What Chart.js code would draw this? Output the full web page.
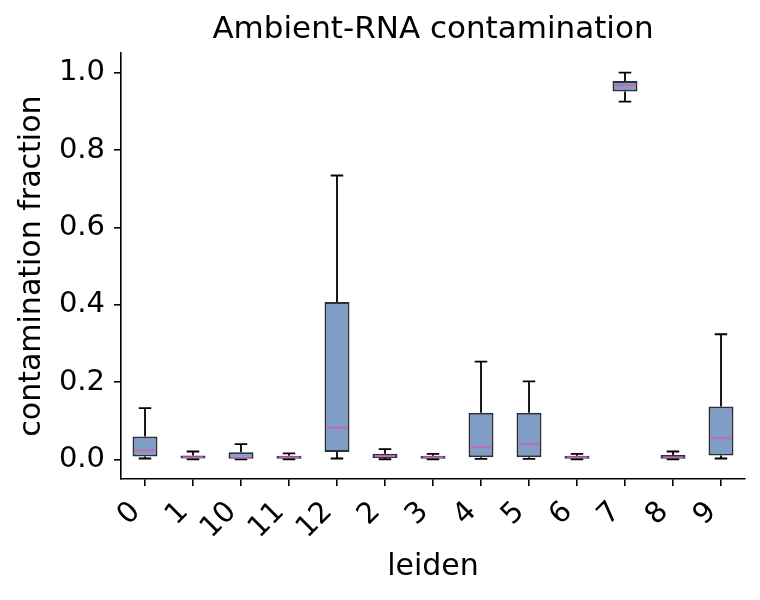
<!DOCTYPE html>
<html>
<head>
<meta charset="utf-8">
<script src="https://cdn.jsdelivr.net/npm/chart.js@4.4.1/dist/chart.umd.min.js"></script>
<style>
  html, body { margin: 0; padding: 0; background: #fff; }
  #chart { display: block; }
</style>
</head>
<body>
<canvas id="chart" width="760" height="600"></canvas>
<script>
// leiden clusters, in the order matplotlib sorted them (as strings)
const categories = ["0", "1", "10", "11", "12", "2", "3", "4", "5", "6", "7", "8", "9"];

// box plot stats
const whiskerLow  = [0.003, 0.001, 0.001, 0.001, 0.003, 0.001, 0.001, 0.002, 0.002, 0.001, 0.925, 0.001, 0.003];
const q1          = [0.008, 0.003, 0.002, 0.002, 0.020, 0.004, 0.002, 0.006, 0.006, 0.002, 0.951, 0.002, 0.011];
const medians     = [0.024, 0.006, 0.005, 0.006, 0.083, 0.009, 0.006, 0.032, 0.040, 0.006, 0.968, 0.006, 0.055];
const q3          = [0.060, 0.011, 0.019, 0.010, 0.407, 0.015, 0.010, 0.121, 0.121, 0.010, 0.978, 0.012, 0.137];
const whiskerHigh = [0.133, 0.021, 0.040, 0.016, 0.734, 0.027, 0.015, 0.253, 0.202, 0.015, 1.000, 0.021, 0.324];

const yTicks = [0.0, 0.2, 0.4, 0.6, 0.8, 1.0];

const FONT = "'DejaVu Sans', sans-serif";

// whiskers, caps and medians drawn on top of the floating bars
const boxExtras = {
  id: "boxExtras",
  afterDatasetsDraw(chart) {
    const { ctx, scales: { x, y } } = chart;
    const meta = chart.getDatasetMeta(0);
    ctx.save();
    categories.forEach((c, i) => {
      const bar = meta.data[i];
      const cx = x.getPixelForValue(i);
      const half = bar.width / 2;
      const capHalf = half / 2;

      ctx.strokeStyle = "#000";
      ctx.lineWidth = 1.8;
      ctx.beginPath();
      // upper whisker + cap
      ctx.moveTo(cx, y.getPixelForValue(q3[i]));
      ctx.lineTo(cx, y.getPixelForValue(whiskerHigh[i]));
      ctx.moveTo(cx - capHalf, y.getPixelForValue(whiskerHigh[i]));
      ctx.lineTo(cx + capHalf, y.getPixelForValue(whiskerHigh[i]));
      // lower whisker + cap
      ctx.moveTo(cx, y.getPixelForValue(q1[i]));
      ctx.lineTo(cx, y.getPixelForValue(whiskerLow[i]));
      ctx.moveTo(cx - capHalf, y.getPixelForValue(whiskerLow[i]));
      ctx.lineTo(cx + capHalf, y.getPixelForValue(whiskerLow[i]));
      ctx.stroke();

      // median
      ctx.strokeStyle = "#c06cb0";
      ctx.lineWidth = 2;
      ctx.beginPath();
      ctx.moveTo(cx - half + 2, y.getPixelForValue(medians[i]));
      ctx.lineTo(cx + half - 2, y.getPixelForValue(medians[i]));
      ctx.stroke();
    });
    ctx.restore();
  }
};

new Chart(document.getElementById("chart"), {
  type: "bar",
  data: {
    labels: categories,
    datasets: [{
      data: categories.map((c, i) => [q1[i], q3[i]]),
      backgroundColor: "#809dc8",
      borderColor: "#2b303a",
      borderWidth: 2,
      borderSkipped: false,
      barPercentage: 0.52,
      categoryPercentage: 1.0
    }]
  },
  options: {
    responsive: false,
    animation: false,
    layout: { padding: { top: 0, right: 15, bottom: 0, left: 0 } },
    plugins: {
      legend: { display: false },
      tooltip: { enabled: false },
      title: {
        display: true,
        text: "Ambient-RNA contamination",
        fullSize: false,
        color: "#000",
        font: { family: FONT, size: 31, weight: "normal" },
        padding: { top: 11, bottom: 5 }
      }
    },
    scales: {
      x: {
        type: "category",
        offset: true,
        border: { display: true, color: "#000", width: 1.6 },
        grid: { display: true, offset: false, drawOnChartArea: false, drawTicks: true, tickLength: 7, color: "#000", lineWidth: 1.6 },
        ticks: {
          color: "#000",
          font: { family: FONT, size: 29 },
          autoSkip: false,
          minRotation: 45,
          maxRotation: 45,
          labelOffset: -9,
          padding: 9
        },
        title: {
          display: true,
          text: "leiden",
          color: "#000",
          font: { family: FONT, size: 30 },
          padding: { top: 0, bottom: 15 }
        },
        afterFit(s) { s.height = 121; }
      },
      y: {
        min: -0.05,
        max: 1.05,
        border: { display: true, color: "#000", width: 1.6 },
        grid: { display: true, drawOnChartArea: false, drawTicks: true, tickLength: 7, color: "#000", lineWidth: 1.6 },
        afterBuildTicks(s) { s.ticks = yTicks.map(v => ({ value: v })); },
        ticks: {
          color: "#000",
          font: { family: FONT, size: 29 },
          padding: 9,
          callback: v => v.toFixed(1)
        },
        title: {
          display: true,
          text: "contamination fraction",
          color: "#000",
          font: { family: FONT, size: 30 },
          padding: { top: 14, bottom: 0 }
        },
        afterFit(s) { s.width = 121; }
      }
    }
  },
  plugins: [boxExtras]
});
</script>
</body>
</html>
